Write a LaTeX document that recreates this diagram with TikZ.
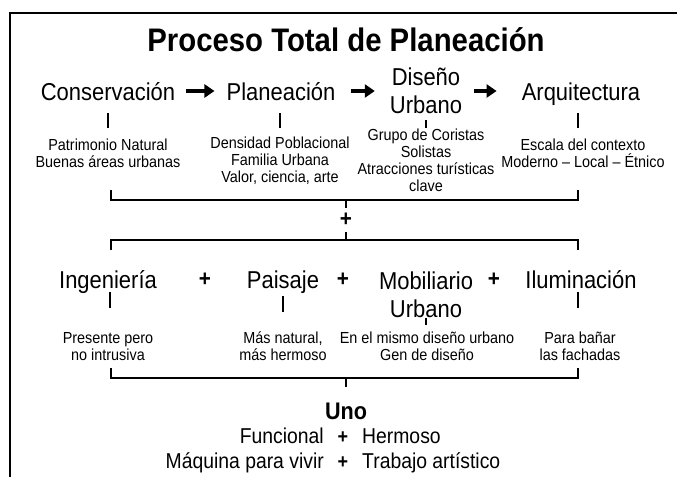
\documentclass[tikz,border=0pt]{standalone}
\usepackage{fontspec}
\setmainfont{Liberation Sans}[FakeStretch=0.9]
\usetikzlibrary{arrows.meta}
\tikzset{
  big/.style={inner sep=0pt, align=center, font=\fontsize{24.4}{28}\selectfont},
  desc/.style={inner sep=0pt, align=center, font=\fontsize{16}{17}\selectfont},
  plusbig/.style={inner sep=0pt, font=\fontsize{23}{24}\selectfont\bfseries},
  res/.style={inner sep=0pt, font=\fontsize{21.5}{22}\selectfont},
  tickln/.style={line width=2.6pt},
  brk/.style={line width=2.6pt},
  arr/.style={line width=4pt, -{Triangle[length=10pt,width=13pt]}},
  frame/.style={line width=2.6pt}
}
\begin{document}
\begin{tikzpicture}[x=1pt,y=-1pt]
\useasboundingbox (0,0) rectangle (677,477);
\draw[frame] (10,477) -- (10,13) -- (677,13);
\node[inner sep=0pt, anchor=base, font=\fontsize{32.6}{34}\selectfont\bfseries] (title) at (346,51) {Proceso Total de Planeación};
% row 1
\node[big, anchor=base] (cons) at (108,100) {Conservación};
\node[big, anchor=base] (plan) at (281,100) {Planeación};
\node[big] (dis) at (426,91) {Diseño\\Urbano};
\node[big, anchor=base] (arq) at (581,100) {Arquitectura};
\draw[arr, shorten <=11pt, shorten >=12pt] (cons.east|-dis.center) -- (plan.west|-dis.center);
\draw[arr, shorten <=15pt, shorten >=15pt] (plan.east|-dis.center) -- (dis.west);
\draw[arr, shorten <=12pt, shorten >=25pt] (dis.east) -- (arq.west|-dis.center);
\node[desc] (consd) at (108,153.5) {Patrimonio Natural\\Buenas áreas urbanas};
\node[desc] (pland) at (280,161) {Densidad Poblacional\\Familia Urbana\\Valor, ciencia, arte};
\node[desc] (disd) at (426,160.5) {Grupo de Coristas\\Solistas\\Atracciones turísticas\\clave};
\node[desc] (arqd) at (583,153.5) {Escala del contexto\\Moderno -- Local -- Étnico};
\coordinate (t1a) at (108,113); \coordinate (t1b) at (108,128);
\coordinate (t2a) at (280,113); \coordinate (t2b) at (280,128);
\coordinate (t3a) at (426,120); \coordinate (t3b) at (426,128);
\coordinate (t4a) at (578,113); \coordinate (t4b) at (578,128);
\draw[tickln] (t1a) -- (t1b); \draw[tickln] (t2a) -- (t2b);
\draw[tickln] (t3a) -- (t3b); \draw[tickln] (t4a) -- (t4b);
% bracket 1
\coordinate (b1l) at (111,200); \coordinate (b1r) at (578,200); \coordinate (b1c) at (346,200);
\draw[brk] ([yshift=10pt]b1l) -- (b1l) -- (b1r) -- ([yshift=10pt]b1r);
\node[plusbig] (p0) at (346,220) {+};
\coordinate (b2l) at (111,240); \coordinate (b2r) at (578,240); \coordinate (b2c) at (346,240);
\draw[brk] (b1c) -- ([yshift=-8pt]b1c);
\draw[brk] (b2c) -- ([yshift=8pt]b2c);
\draw[brk] ([yshift=-10pt]b2l) -- (b2l) -- (b2r) -- ([yshift=-10pt]b2r);
% row 2
\node[big, anchor=base] (ing) at (108,288) {Ingeniería};
\node[plusbig] (p1) at (205,280) {+};
\node[big, anchor=base] (pais) at (283,288) {Paisaje};
\node[plusbig] (p2) at (343,280) {+};
\node[big] (mob) at (426,295) {Mobiliario\\Urbano};
\node[plusbig] (p3) at (494,280) {+};
\node[big, anchor=base] (ilu) at (581,288) {Iluminación};
\coordinate (u1a) at (110,292); \coordinate (u1b) at (110,308);
\coordinate (u2a) at (283,296); \coordinate (u2b) at (283,312);
\coordinate (u3a) at (426,318); \coordinate (u3b) at (426,325);
\coordinate (u4a) at (578,292); \coordinate (u4b) at (578,308);
\draw[tickln] (u1a) -- (u1b); \draw[tickln] (u2a) -- (u2b);
\draw[tickln] (u3a) -- (u3b); \draw[tickln] (u4a) -- (u4b);
\node[desc] (ingd) at (108,346.5) {Presente pero\\no intrusiva};
\node[desc] (paisd) at (283,346.5) {Más natural,\\más hermoso};
\node[desc] (mobd) at (427,346.5) {En el mismo diseño urbano\\Gen de diseño};
\node[desc] (ilud) at (580,346.5) {Para bañar\\las fachadas};
% bracket 3
\coordinate (b3l) at (111,378); \coordinate (b3r) at (578,378); \coordinate (b3c) at (346,378);
\draw[brk] ([yshift=10pt]b3l) -- (b3l) -- (b3r) -- ([yshift=10pt]b3r);
\draw[brk] (b3c) -- ([yshift=-9pt]b3c);
% result
\node[inner sep=0pt, anchor=base, font=\fontsize{24}{26}\selectfont\bfseries] (uno) at (346,419) {Uno};
\node[inner sep=0pt, font=\fontsize{20}{22}\selectfont\bfseries] (q1) at (343,438) {+};
\node[inner sep=0pt, font=\fontsize{20}{22}\selectfont\bfseries] (q2) at (343,463) {+};
\node[res, anchor=base east] (f1) at ([xshift=-19pt]q1.base) {Funcional};
\node[res, anchor=base west] (h1) at ([xshift=19pt]q1.base) {Hermoso};
\node[res, anchor=base east] (f2) at ([xshift=-19pt]q2.base) {Máquina para vivir};
\node[res, anchor=base west] (h2) at ([xshift=19pt]q2.base) {Trabajo artístico};
\end{tikzpicture}
\end{document}
